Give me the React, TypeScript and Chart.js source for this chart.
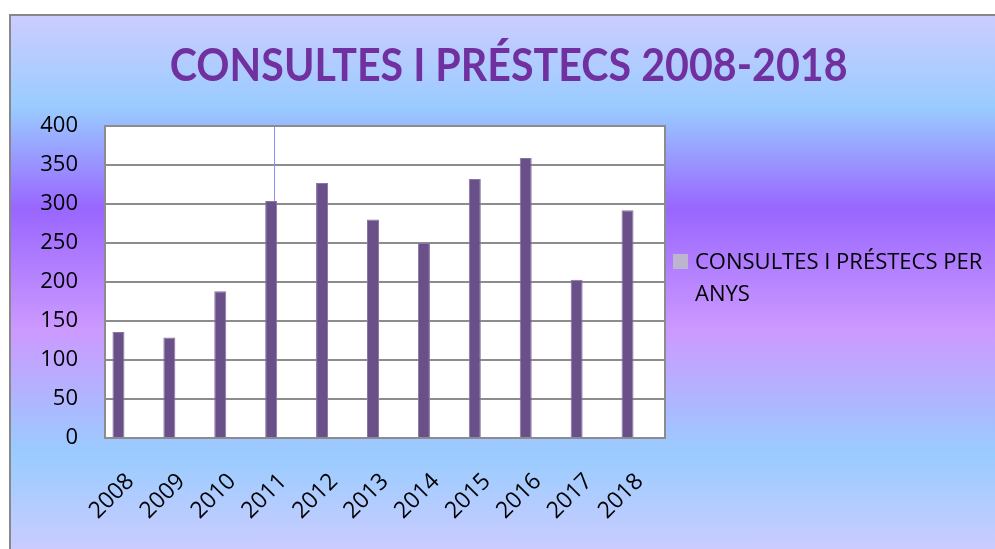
import React, { useEffect, useRef } from "react";
import { Chart, registerables } from "chart.js";

Chart.register(...registerables);

const TITLE = "CONSULTES I PRÉSTECS 2008-2018";
const SERIES_LABEL = "CONSULTES I PRÉSTECS PER ANYS";
const YEARS = ["2008", "2009", "2010", "2011", "2012", "2013", "2014", "2015", "2016", "2017", "2018"];
const VALUES = [136, 129, 188, 304, 327, 280, 250, 332, 359, 203, 292];
const EMPTY_SERIES = [null, null, null, null, null, null, null, null, null, null, null];
const Y_MIN = 0;
const Y_MAX = 400;
const Y_STEP = 50;
const MARKER_INDEX = 3;

const BAR_COLOR = "#6a5088";
const GRID_COLOR = "#8c8c8c";

const plotBackground = {
  id: "plotBackground",
  beforeDraw(chart: any) {
    const { ctx, chartArea } = chart;
    ctx.save();
    ctx.fillStyle = "#ffffff";
    ctx.fillRect(chartArea.left, chartArea.top, chartArea.right - chartArea.left, chartArea.bottom - chartArea.top);
    ctx.restore();
  },
};

const plotFrame = {
  id: "plotFrame",
  afterDatasetsDraw(chart: any) {
    const { ctx, chartArea } = chart;
    ctx.save();
    const bar = chart.getDatasetMeta(0).data[MARKER_INDEX];
    if (bar) {
      ctx.strokeStyle = "#8f8fff";
      ctx.lineWidth = 1;
      ctx.beginPath();
      ctx.moveTo(Math.round(bar.x + 3) + 0.5, chartArea.top);
      ctx.lineTo(Math.round(bar.x + 3) + 0.5, bar.y);
      ctx.stroke();
    }
    ctx.strokeStyle = GRID_COLOR;
    ctx.lineWidth = 2;
    ctx.strokeRect(chartArea.left, chartArea.top, chartArea.right - chartArea.left, chartArea.bottom - chartArea.top);
    ctx.restore();
  },
};

export default function App() {
  const canvasRef = useRef<HTMLCanvasElement | null>(null);

  useEffect(() => {
    if (!canvasRef.current) return;
    const chart = new Chart(canvasRef.current, {
      type: "bar",
      data: {
        labels: YEARS,
        datasets: [
          {
            label: SERIES_LABEL,
            data: VALUES,
            backgroundColor: BAR_COLOR,
            borderColor: "#8a74a8",
            borderWidth: 1,
            categoryPercentage: 0.943,
            barPercentage: 0.5,
          },
          {
            label: "",
            data: EMPTY_SERIES as any,
            backgroundColor: BAR_COLOR,
            categoryPercentage: 0.943,
            barPercentage: 0.5,
          },
        ],
      },
      options: {
        animation: false,
        responsive: true,
        maintainAspectRatio: false,
        layout: { padding: { top: 110, left: 0, right: 340, bottom: 0 } },
        plugins: {
          legend: { display: false },
          title: { display: false },
          tooltip: { enabled: false },
        },
        scales: {
          x: {
            grid: { display: false },
            border: { display: false },
            ticks: {
              color: "#000",
              font: { family: "'Open Sans'", size: 23 },
              minRotation: 45,
              maxRotation: 45,
              padding: 22,
            },
            afterFit(scale: any) {
              scale.height = 111;
            },
          },
          y: {
            min: Y_MIN,
            max: Y_MAX,
            grid: { color: GRID_COLOR, lineWidth: 2, drawTicks: false },
            border: { display: false },
            ticks: {
              stepSize: Y_STEP,
              color: "#000",
              font: { family: "'Open Sans'", size: 22 },
              padding: 27,
            },
            afterFit(scale: any) {
              scale.width = 94;
            },
          },
        },
      },
      plugins: [plotBackground, plotFrame],
    });
    return () => chart.destroy();
  }, []);

  return (
    <div style={{ position: "fixed", left: 0, top: 0, width: 995, height: 549, overflow: "hidden", background: "#fff" }}>
      <div
        style={{
          position: "absolute",
          left: 9,
          top: 14,
          width: 998,
          height: 540,
          boxSizing: "border-box",
          border: "2px solid #888",
          background:
            "linear-gradient(to bottom, #ccccff 0%, #99ccff 17%, #9966ff 36%, #cc99ff 58.5%, #99ccff 81.7%, #ccccff 100%)",
        }}
      >
        <div style={{ position: "absolute", left: 0, top: 0, width: 994, height: 533 }}>
          <canvas ref={canvasRef} />
        </div>
        <div
          style={{
            position: "absolute",
            left: -11,
            top: 25,
            width: 1017,
            textAlign: "center",
            fontFamily: "Lato",
            fontWeight: 700,
            fontSize: 46,
            lineHeight: "46px",
            color: "#7030a0",
            whiteSpace: "nowrap",
          }}
        >
          <span style={{ display: "inline-block", transform: "scaleX(0.895)" }}>{TITLE}</span>
        </div>
        <div style={{ position: "absolute", left: 662, top: 238, width: 330, display: "flex", alignItems: "flex-start" }}>
          <div style={{ width: 15, height: 15, background: "#bdb4ce", marginTop: 0, marginRight: 7, flex: "none" }} />
          <div
            style={{
              fontFamily: "'Open Sans'",
              fontSize: 22,
              lineHeight: "32px",
              color: "#000",
              marginTop: -10,
              width: 310,
              whiteSpace: "nowrap",
            }}
          >
            {SERIES_LABEL.split(" ").slice(0, 4).join(" ")}
            <br />
            {SERIES_LABEL.split(" ").slice(4).join(" ")}
          </div>
        </div>
      </div>
    </div>
  );
}
